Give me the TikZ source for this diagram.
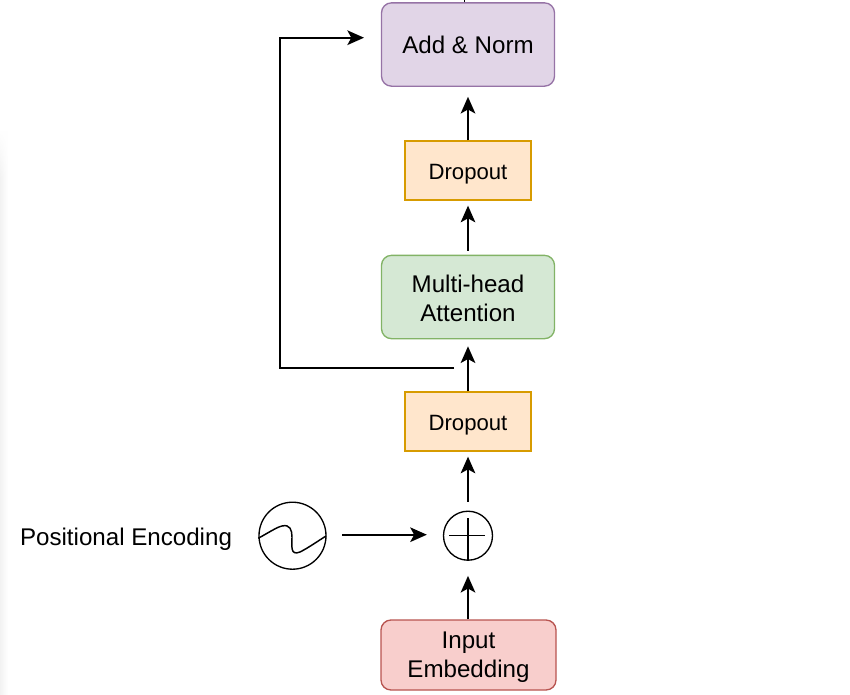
\documentclass[tikz,border=0pt]{standalone}
\usepackage{fontspec}
\setmainfont{Liberation Sans}
\usetikzlibrary{arrows.meta, shapes, positioning, calc, fadings}
\tikzset{
  block/.style={draw, line width=1pt, rounded corners=7.5pt, inner sep=0pt, minimum width=129.75pt, minimum height=62.5pt, align=center, font=\fontsize{18.1}{21.7}\selectfont},
  dropbox/.style={draw=dropline, fill=dropfill, line width=1pt, inner sep=0pt, minimum width=94.5pt, minimum height=44.25pt, text height=17.2pt, text depth=3.5pt, font=\fontsize{16.6}{20}\selectfont},
  link/.style={line width=1.3pt, -{Stealth[length=12.5pt, width=11pt, inset=3pt]}},
  round/.style={draw, circle, line width=1pt, inner sep=0pt},
  stroke/.style={line width=1.1pt}
}
\definecolor{dropline}{HTML}{D79B00}
\definecolor{dropfill}{HTML}{FFE6CC}
\definecolor{addline}{HTML}{9673A6}
\definecolor{addfill}{HTML}{E1D5E7}
\definecolor{attline}{HTML}{82B366}
\definecolor{attfill}{HTML}{D5E8D4}
\definecolor{inputline}{HTML}{B85450}
\definecolor{inputfill}{HTML}{F8CECC}
\begin{document}
\begin{tikzpicture}[x=0.75pt, y=-0.75pt]
  \useasboundingbox (0,0) rectangle (850,694);
  \shade[left color=black!5, right color=white, draw=none] (0,130) rectangle (8,694);
  \fill[white, path fading=south] (0,130) rectangle (8,180);
  % blocks
  \node[block, draw=addline, fill=addfill] (addnorm) at (468,44.5) {Add \& Norm};
  \node[dropbox] (droptop) at (468,170.5) {Dropout};
  \node[block, draw=attline, fill=attfill] (attention) at (468,297) {\rule{0pt}{14.6pt}Multi-head\\Attention};
  \node[dropbox] (dropbottom) at (468,421.5) {Dropout};
  \node[round, minimum size=36.75pt] (plus) at (468,535.7) {};
  \node[round, minimum size=50.25pt] (sine) at (292.5,535.7) {};
  \node[block, draw=inputline, fill=inputfill, minimum width=131.25pt, minimum height=52.5pt] (input) at (468.5,655) {\rule{0pt}{16pt}Input\\Embedding};
  \node[font=\fontsize{18.1}{21.7}\selectfont] (poslabel) at (126,539) {Positional Encoding};
  % symbols inside the circles
  \draw[stroke] (449,535.7) -- (485,535.7);
  \draw[stroke] (plus.south) -- (468,518);
  \draw[stroke] (sine.west) ++(0,2.5) .. controls (268,533) and (277,527) .. (282,526) .. controls (290,524) and (292,530) .. (292,537) .. controls (292,546) and (290,556) .. (300,552) .. controls (308,548) and (318,541) .. (326,536);
  % arrows
  \draw[link, shorten >=7.5pt] (droptop.north) -- (addnorm.south);
  \draw[link, shorten <=3pt, shorten >=3.75pt] (attention.north) -- (droptop.south);
  \draw[link, shorten >=5.25pt] (dropbottom.north) -- (attention.south);
  \draw[link, shorten <=6.75pt, shorten >=3.75pt] (plus.north) -- (dropbottom.south);
  \draw[link, shorten >=11.25pt] (input.north -| plus.south) -- (plus.south);
  \coordinate (sinearrow) at (342,534.7);
  \draw[link, shorten >=12pt] (sinearrow) -- (sinearrow -| plus.west);
  % skip connection
  \coordinate (skipstart) at (454,367.7);
  \coordinate (skipturn) at (279.7,367.7);
  \coordinate (skipend) at (364,37.7);
  \draw[link] (skipstart) -- (skipturn) |- (skipend);
  \coordinate (topstub) at (464.5,0);
  \draw[stroke] (topstub) -- (topstub |- addnorm.north);
\end{tikzpicture}
\end{document}
